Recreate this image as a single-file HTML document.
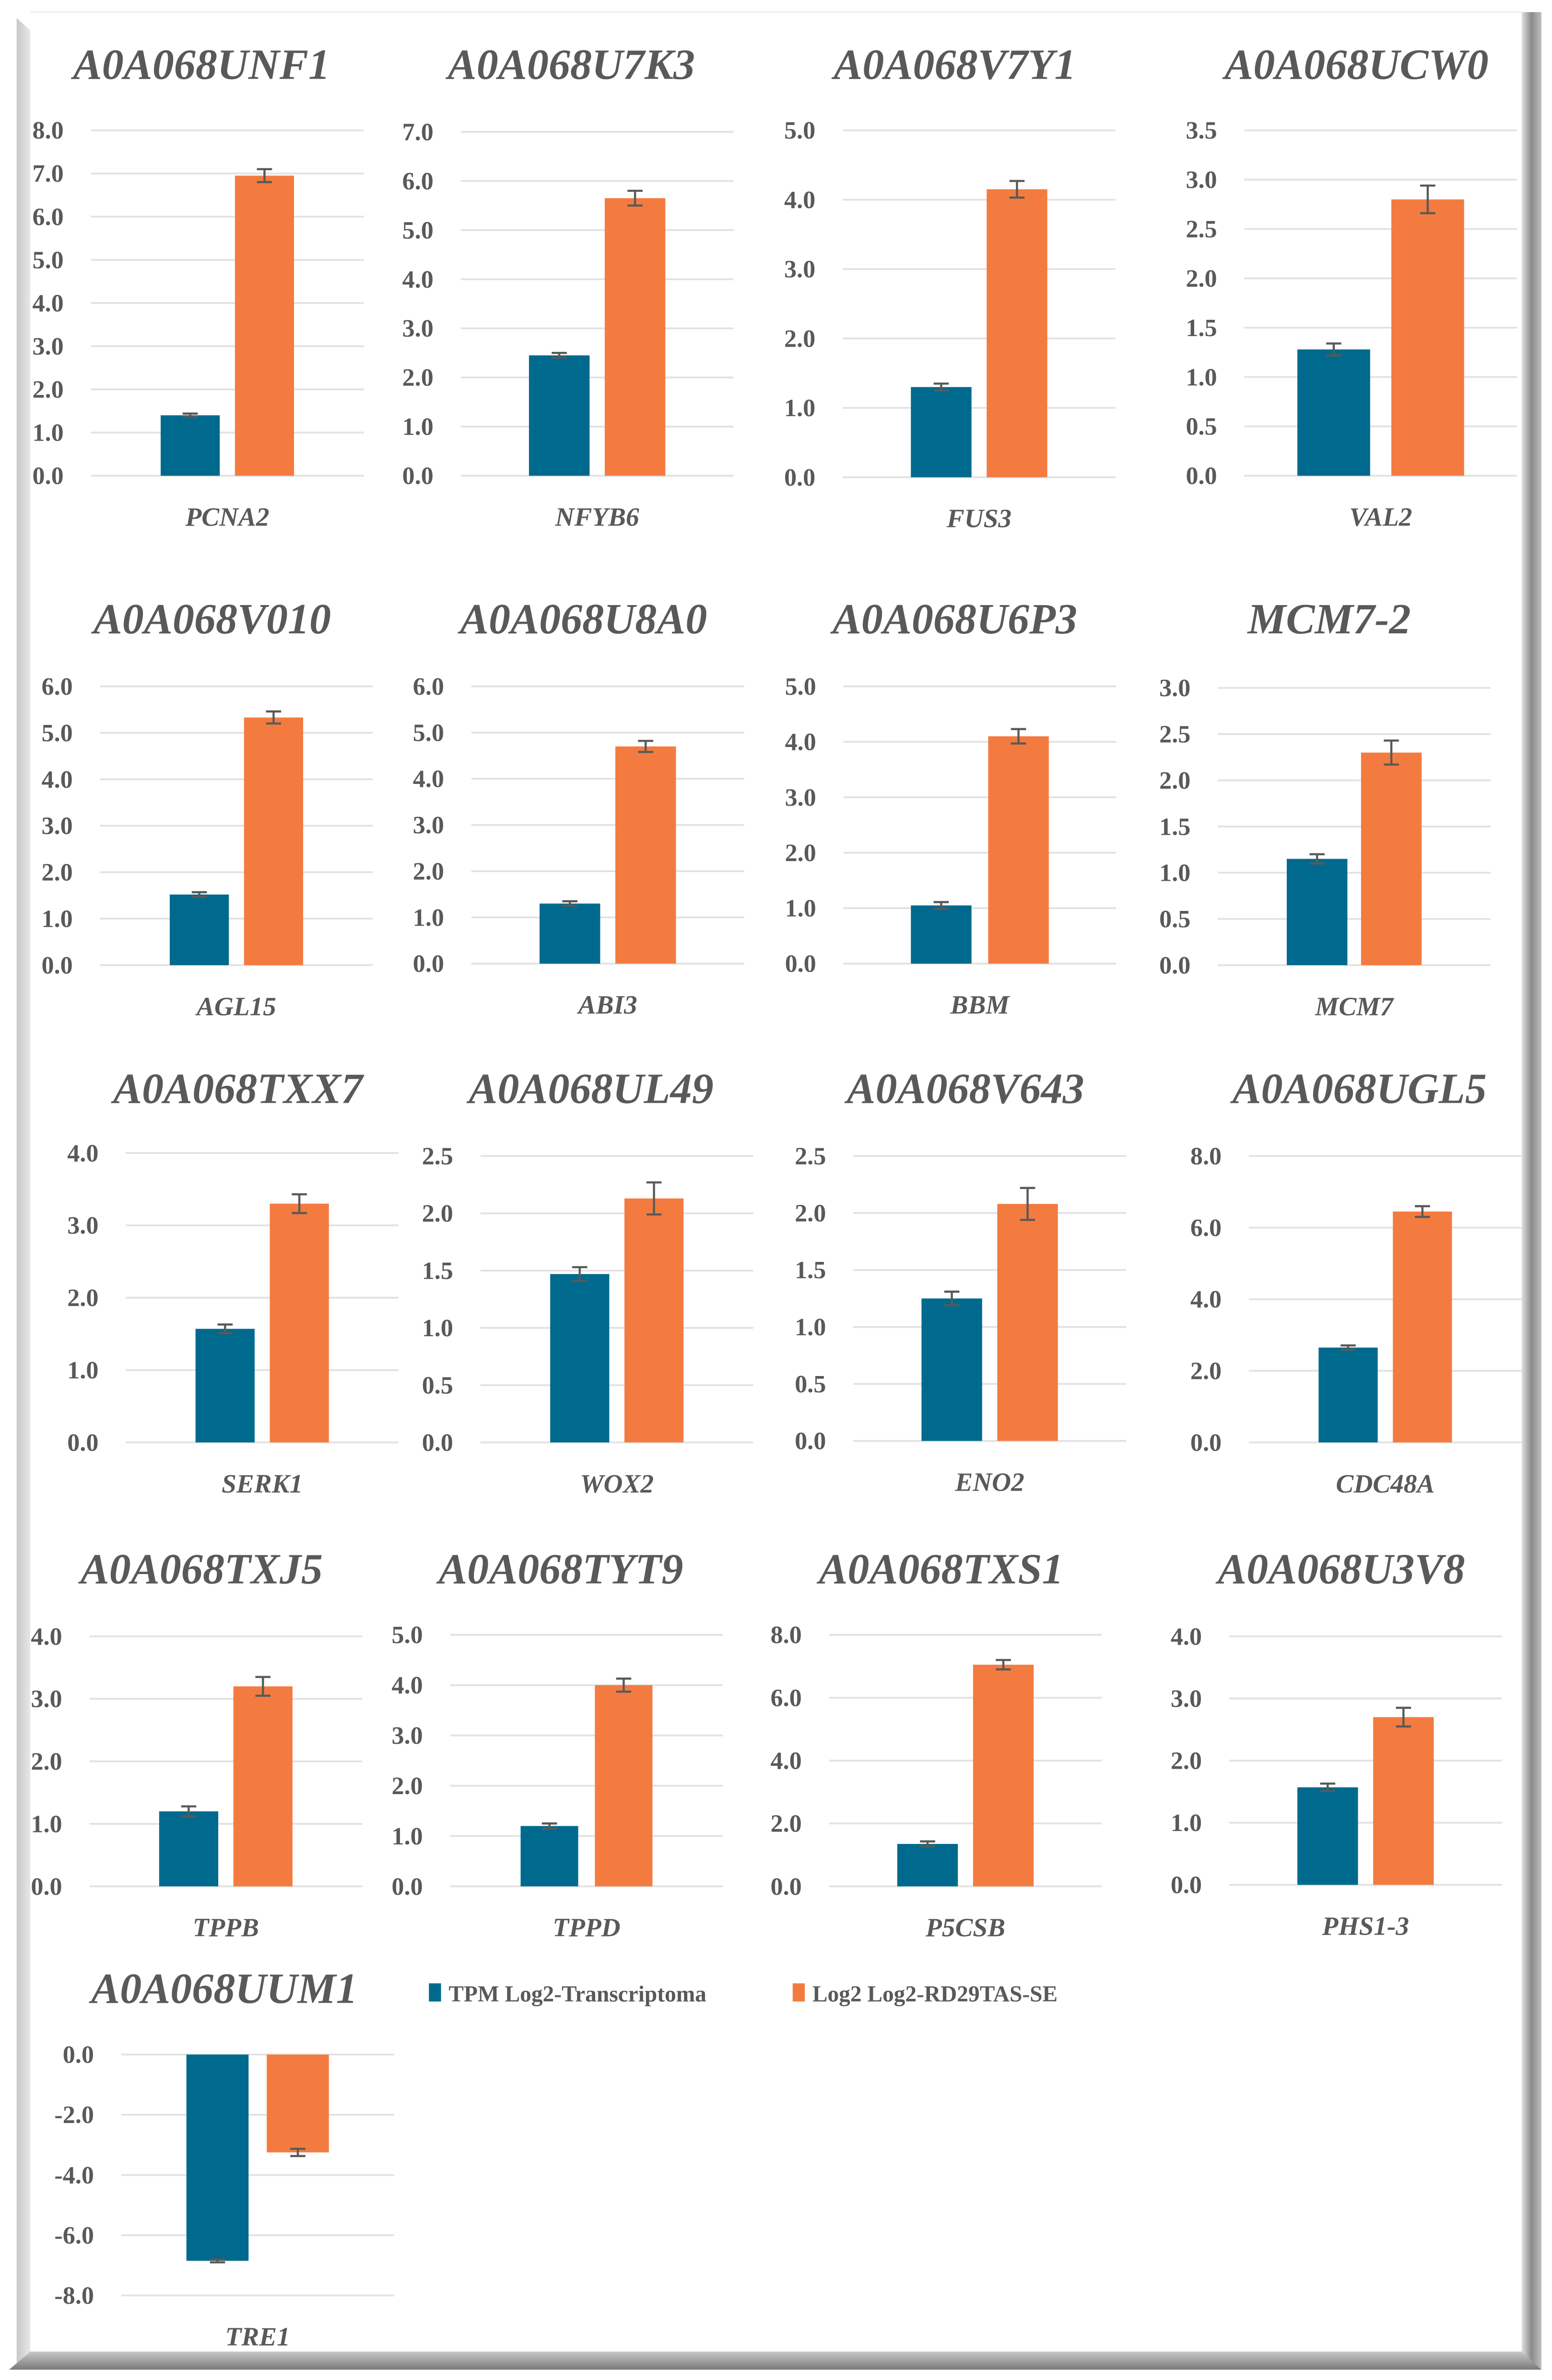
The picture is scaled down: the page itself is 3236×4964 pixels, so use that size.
<!DOCTYPE html>
<html><head><meta charset="utf-8"><style>
html,body{margin:0;padding:0;background:#fff;}
svg{display:block;}
text{font-family:"Liberation Serif",serif;}
</style></head><body>
<svg id="chart" width="3236" height="4964" viewBox="0 0 1024 1570.8" preserveAspectRatio="none" xmlns="http://www.w3.org/2000/svg" font-family="Liberation Serif, serif">
<defs>
<linearGradient id="lg" x1="0" x2="1"><stop offset="0" stop-color="#c8c8c8"/><stop offset="1" stop-color="#e8e8e8"/></linearGradient>
<linearGradient id="rg" x1="0" x2="1"><stop offset="0" stop-color="#e0e0e0"/><stop offset="0.5" stop-color="#8a8a8a"/><stop offset="1" stop-color="#c0c0c0"/></linearGradient>
<linearGradient id="bg" y1="0" y2="1" x1="0" x2="0"><stop offset="0" stop-color="#c8c8c8"/><stop offset="1" stop-color="#7a7a7a"/></linearGradient>
</defs>
<rect x="0" y="0" width="1024" height="1570.8" fill="#fff"/>
<polygon points="11,12 20,20 20,1552 11,1560" fill="url(#lg)"/>
<rect x="1004" y="8" width="13" height="1556" fill="url(#rg)"/>
<polygon points="20,1552 1004,1552 1017,1564 6,1564" fill="url(#bg)"/>
<line x1="20" y1="8" x2="1004" y2="8" stroke="#eee" stroke-width="1"/>
<g id="plots"></g>
<g>
<rect x="283" y="1309" width="8" height="12" fill="#006a8e"/>
<text x="296" y="1321" font-family="Liberation Serif, serif" font-size="15" font-weight="bold" fill="#595959">TPM Log2-Transcriptoma</text>
<rect x="523" y="1309" width="8" height="12" fill="#f47b40"/>
<text x="536" y="1321" font-family="Liberation Serif, serif" font-size="15" font-weight="bold" fill="#595959">Log2 Log2-RD29TAS-SE</text>
</g>
</svg>
<script>
const titles = ["A0A068UNF1","A0A068U7K3","A0A068V7Y1","A0A068UCW0","A0A068V010","A0A068U8A0","A0A068U6P3","MCM7-2","A0A068TXX7","A0A068UL49","A0A068V643","A0A068UGL5","A0A068TXJ5","A0A068TYT9","A0A068TXS1","A0A068U3V8","A0A068UUM1"];
const genes = ["PCNA2","NFYB6","FUS3","VAL2","AGL15","ABI3","BBM","MCM7","SERK1","WOX2","ENO2","CDC48A","TPPB","TPPD","P5CSB","PHS1-3","TRE1"];
const transcriptomaValues = [1.4,2.45,1.3,1.28,1.52,1.3,1.05,1.15,1.57,1.47,1.25,2.65,1.2,1.2,1.35,1.57,-6.85];
const transcriptomaErr = [0.04,0.05,0.05,0.06,0.05,0.05,0.06,0.05,0.06,0.06,0.06,0.06,0.08,0.05,0.08,0.06,0.05];
const rd29Values = [6.95,5.65,4.15,2.8,5.33,4.7,4.1,2.3,3.3,2.13,2.08,6.45,3.2,4.0,7.05,2.7,-3.25];
const rd29Err = [0.15,0.15,0.12,0.14,0.13,0.12,0.13,0.13,0.13,0.14,0.14,0.15,0.15,0.13,0.15,0.15,0.12];
const yMin = [0,0,0,0,0,0,0,0,0,0,0,0,0,0,0,0,-8];
const yMax = [8,7,5,3.5,6,6,5,3,4,2.5,2.5,8,4,5,8,4,0];
const yStep = [1,1,1,0.5,1,1,1,0.5,1,0.5,0.5,2,1,1,2,1,2];

// layout (pixel geometry, not data): [midX, topY, bottomY, titleX, titleY, barW, gap]
const layout = [
 [150,86,314,133,52,39,10],[394,87,314,377,52,40,10],[646,86,315,630,52,40,10],[911,86,314,895,52,48,14],
 [156,453,637,140,418,39,10],[401,453,636,385,418,40,10],[646.5,453,636,630,418,40,11],[893.5,454,637,877,418,40,9],
 [173,761,952,157,728,39,10],[407,763,952,390,728,39,10],[653,763,951,637,728,40,10],[914,763,952,897,728,39,10],
 [149,1080,1245,133,1045,39,10],[387,1079,1245,370,1045,38,11],[637,1079,1245,621,1045,40,10],[901,1080,1244,885,1045,40,10],
 [170,1356,1515,148,1322,41,12]
];
const NS = "http://www.w3.org/2000/svg";
const root = document.getElementById('plots');
function mk(tag, attrs, parent){ const e=document.createElementNS(NS,tag); for(const k in attrs) e.setAttribute(k,attrs[k]); parent.appendChild(e); return e; }
const FF = 'Liberation Serif, serif';

titles.forEach((t,i)=>{
  const [mx,top,bot,tx,ty,bw,gap]=layout[i];
  const g=mk('g',{},root);
  
  
  const lo=yMin[i], hi=yMax[i];
  const y=v=> bot-(v-lo)/(hi-lo)*(bot-top);
  const gl=mx-90, gr=mx+90;
  const n=Math.round((hi-lo)/yStep[i]);
  for(let k=0;k<=n;k++){
    const v=lo+k*yStep[i];
    const ln=mk('line',{x1:gl,x2:gr,y1:y(v),y2:y(v),stroke:'#e2e2e2','stroke-width':1.2},g);
    
    
    const tl=mk('text',{x:gl-18,y:y(v)+5.5,'text-anchor':'end','font-family':FF,'font-size':16.5,'font-weight':'bold',fill:'#595959'},g);
    
    
    tl.textContent=v.toFixed(1);
  }
  const title=mk('text',{x:tx,y:ty,'text-anchor':'middle','font-family':FF,'font-size':28.5,'font-style':'italic','font-weight':'bold',fill:'#595959'},g);
  
  
  title.textContent=t;
  const base=y(Math.max(lo,Math.min(hi,0)));
  const series=[[transcriptomaValues[i],transcriptomaErr[i],'#006a8e',mx-gap/2-bw,'bar-transcriptoma'],[rd29Values[i],rd29Err[i],'#f47b40',mx+gap/2,'bar-rd29tas']];
  series.forEach(([v,e,c,x,name])=>{
    const yv=y(v);
    const r=mk('rect',{x:x,y:Math.min(yv,base),width:bw,height:Math.abs(base-yv),fill:c},g);
    
    
    const cx=x+bw/2, y1=y(v-e), y2=y(v+e);
    const eb=mk('path',{d:`M${cx},${y1}V${y2}M${cx-5},${y1}H${cx+5}M${cx-5},${y2}H${cx+5}`,stroke:'#595959','stroke-width':1.4,fill:'none'},g);
    
    
  });
  const cat=mk('text',{x:mx,y:bot+33,'text-anchor':'middle','font-family':FF,'font-size':17.5,'font-style':'italic','font-weight':'600',fill:'#595959'},g);
  
  
  cat.textContent=genes[i];
});
</script>
</body></html>
